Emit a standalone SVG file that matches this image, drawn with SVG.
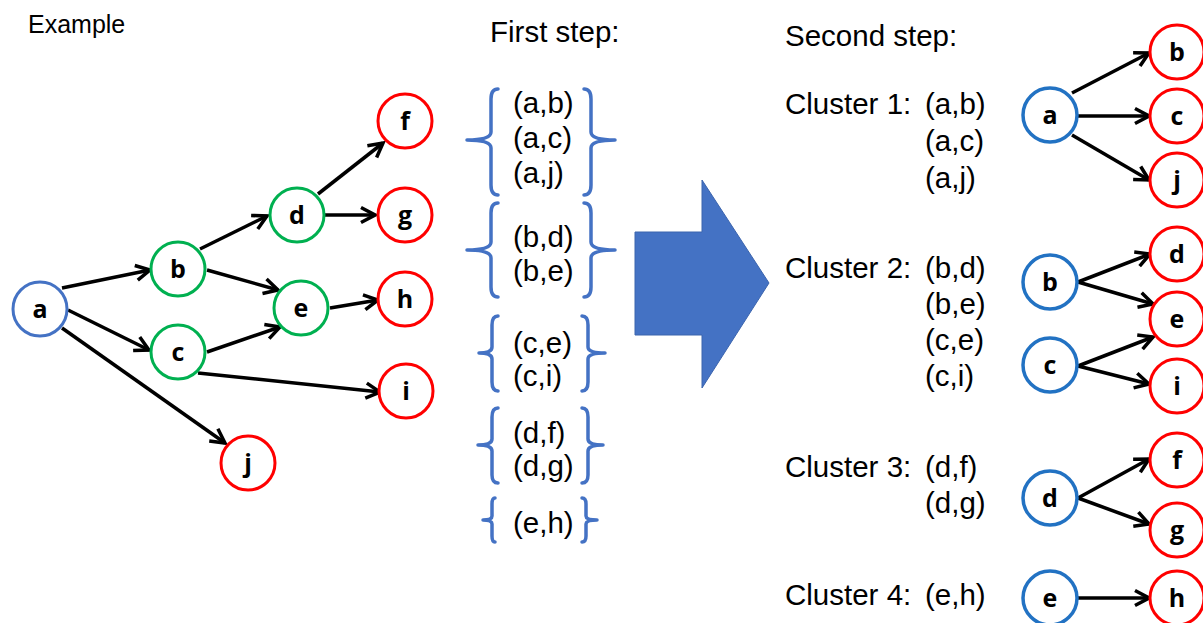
<svg xmlns="http://www.w3.org/2000/svg" width="1203" height="623" viewBox="0 0 1203 623">
<style>
.t{font-family:"Liberation Sans",Arial,sans-serif;font-size:29.5px;fill:#000}
.n{font-family:"Open Sans","Liberation Sans",sans-serif;font-weight:700;font-size:25px;fill:#000;text-anchor:middle}
.cb{fill:#fff;stroke:#4472C4;stroke-width:3}
.cb2{fill:#fff;stroke:#2272C3;stroke-width:3.5}
.cg{fill:#fff;stroke:#00B050;stroke-width:3}
.cr{fill:#fff;stroke:#FF0000;stroke-width:3}
.e{stroke:#000;stroke-width:3.5;fill:none;marker-end:url(#ah)}
.br{fill:none;stroke:#4472C4;stroke-width:3.5;stroke-linecap:round;stroke-linejoin:round}
</style>
<defs>
<marker id="ah" markerUnits="userSpaceOnUse" markerWidth="20" markerHeight="20" viewBox="-3 -3 20 20" refX="14" refY="7.5" orient="auto">
<path d="M0,0 L14,7.5 L0,15" fill="none" stroke="#000" stroke-width="3.5"/>
</marker>
</defs>
<rect width="1203" height="623" fill="#fff"/>

<text class="t" x="28" y="33" style="font-size:25px">Example</text>
<text class="t" x="490" y="42">First step:</text>
<text class="t" x="785" y="46">Second step:</text>

<g id="connectors-left">
<line class="e" x1="62" y1="288" x2="150" y2="270"/>
<line class="e" x1="68" y1="310" x2="149" y2="350"/>
<line class="e" x1="62" y1="328" x2="225" y2="443"/>
<line class="e" x1="200" y1="249" x2="267" y2="216"/>
<line class="e" x1="207" y1="270" x2="278" y2="290"/>
<line class="e" x1="207" y1="352" x2="280" y2="327"/>
<line class="e" x1="198" y1="373" x2="380" y2="392"/>
<line class="e" x1="318" y1="194" x2="383" y2="143"/>
<line class="e" x1="325" y1="215" x2="375" y2="215"/>
<line class="e" x1="330" y1="308" x2="378" y2="300"/>
</g>

<g id="L-a"><circle class="cb" cx="40" cy="309" r="27"/><text class="n" x="40" y="318">a</text></g>
<g id="L-b"><circle class="cg" cx="178" cy="269" r="27"/><text class="n" x="178" y="278">b</text></g>
<g id="L-c"><circle class="cg" cx="178" cy="352" r="27"/><text class="n" x="178" y="361">c</text></g>
<g id="L-d"><circle class="cg" cx="297" cy="215" r="27"/><text class="n" x="297" y="224">d</text></g>
<g id="L-e"><circle class="cg" cx="301" cy="308" r="27"/><text class="n" x="301" y="317">e</text></g>
<g id="L-f"><circle class="cr" cx="405" cy="121" r="27"/><text class="n" x="405" y="130">f</text></g>
<g id="L-g"><circle class="cr" cx="405" cy="215" r="27"/><text class="n" x="405" y="224">g</text></g>
<g id="L-h"><circle class="cr" cx="405" cy="299" r="27"/><text class="n" x="405" y="308">h</text></g>
<g id="L-i"><circle class="cr" cx="406" cy="391" r="27"/><text class="n" x="406" y="400">i</text></g>
<g id="L-j"><circle class="cr" cx="248" cy="463" r="27"/><text class="n" x="248" y="472">j</text></g>

<g id="first-step">
<path class="br" d="M498,89 Q491,89 491,99 L491,132 Q491,140 467,140 Q491,140 491,148 L491,185 Q491,195 498,195"/>
<path class="br" d="M584,89 Q591,89 591,99 L591,132 Q591,140 615,140 Q591,140 591,148 L591,185 Q591,195 584,195"/>
<text class="t" x="513" y="113">(a,b)</text>
<text class="t" x="513" y="148">(a,c)</text>
<text class="t" x="513" y="183">(a,j)</text>

<path class="br" d="M498,203 Q491,203 491,213 L491,242 Q491,250 467,250 Q491,250 491,258 L491,287 Q491,297 498,297"/>
<path class="br" d="M584,203 Q591,203 591,213 L591,242 Q591,250 615,250 Q591,250 591,258 L591,287 Q591,297 584,297"/>
<text class="t" x="513" y="247">(b,d)</text>
<text class="t" x="513" y="281">(b,e)</text>

<path class="br" d="M498,316 Q492,316 492,325 L492,347 Q492,353 479,353 Q492,353 492,359 L492,382 Q492,391 498,391"/>
<path class="br" d="M582,316 Q588,316 588,325 L588,347 Q588,353 605,353 Q588,353 588,359 L588,382 Q588,391 582,391"/>
<text class="t" x="513" y="353">(c,e)</text>
<text class="t" x="513" y="386">(c,i)</text>

<path class="br" d="M498,408 Q492,408 492,417 L492,439 Q492,445 478,445 Q492,445 492,451 L492,475 Q492,483 498,483"/>
<path class="br" d="M582,408 Q588,408 588,417 L588,439 Q588,445 603,445 Q588,445 588,451 L588,475 Q588,483 582,483"/>
<text class="t" x="513" y="443">(d,f)</text>
<text class="t" x="513" y="476">(d,g)</text>

<path class="br" d="M495,498 Q492,498 492,504 L492,516 Q492,520 483,520 Q492,520 492,524 L492,536 Q492,542 495,542"/>
<path class="br" d="M582,498 Q586,498 586,504 L586,516 Q586,520 597,520 Q586,520 586,524 L586,536 Q586,542 582,542"/>
<text class="t" x="513" y="533">(e,h)</text>
</g>

<polygon id="big-arrow" points="635,232 702,232 702,180 769,283 702,388 702,335 635,335" fill="#4472C4" stroke="#3B64AD" stroke-width="1"/>

<g id="cluster-labels">
<text class="t" x="785" y="114">Cluster 1:</text>
<text class="t" x="925" y="114">(a,b)</text>
<text class="t" x="925" y="151">(a,c)</text>
<text class="t" x="925" y="188">(a,j)</text>
<text class="t" x="785" y="278">Cluster 2:</text>
<text class="t" x="925" y="278">(b,d)</text>
<text class="t" x="925" y="314">(b,e)</text>
<text class="t" x="925" y="350">(c,e)</text>
<text class="t" x="925" y="386">(c,i)</text>
<text class="t" x="785" y="477">Cluster 3:</text>
<text class="t" x="925" y="477">(d,f)</text>
<text class="t" x="925" y="513">(d,g)</text>
<text class="t" x="785" y="605">Cluster 4:</text>
<text class="t" x="925" y="605">(e,h)</text>
</g>

<g id="connectors-right">
<line class="e" x1="1072" y1="93" x2="1149" y2="53"/>
<line class="e" x1="1078" y1="116" x2="1149" y2="116"/>
<line class="e" x1="1072" y1="135" x2="1149" y2="180"/>
<line class="e" x1="1078" y1="282" x2="1150" y2="254"/>
<line class="e" x1="1078" y1="282" x2="1153" y2="304"/>
<line class="e" x1="1078" y1="366" x2="1153" y2="337"/>
<line class="e" x1="1078" y1="366" x2="1149" y2="384"/>
<line class="e" x1="1078" y1="498" x2="1149" y2="459"/>
<line class="e" x1="1078" y1="498" x2="1149" y2="524"/>
<line class="e" x1="1078" y1="598" x2="1149" y2="598"/>
</g>

<g id="R1-a"><circle class="cb2" cx="1050" cy="115" r="27"/><text class="n" x="1050" y="124">a</text></g>
<g id="R1-b"><circle class="cr" cx="1177" cy="52" r="27"/><text class="n" x="1177" y="61">b</text></g>
<g id="R1-c"><circle class="cr" cx="1177" cy="116" r="27"/><text class="n" x="1177" y="125">c</text></g>
<g id="R1-j"><circle class="cr" cx="1177" cy="180" r="27"/><text class="n" x="1177" y="189">j</text></g>
<g id="R2-b"><circle class="cb2" cx="1050" cy="282" r="27"/><text class="n" x="1050" y="291">b</text></g>
<g id="R2-c"><circle class="cb2" cx="1050" cy="365" r="27"/><text class="n" x="1050" y="374">c</text></g>
<g id="R2-d"><circle class="cr" cx="1177" cy="254" r="27"/><text class="n" x="1177" y="263">d</text></g>
<g id="R2-e"><circle class="cr" cx="1177" cy="319" r="27"/><text class="n" x="1177" y="328">e</text></g>
<g id="R2-i"><circle class="cr" cx="1177" cy="386" r="27"/><text class="n" x="1177" y="395">i</text></g>
<g id="R3-d"><circle class="cb2" cx="1050" cy="498" r="27"/><text class="n" x="1050" y="507">d</text></g>
<g id="R3-f"><circle class="cr" cx="1177" cy="460" r="27"/><text class="n" x="1177" y="469">f</text></g>
<g id="R3-g"><circle class="cr" cx="1177" cy="530" r="27"/><text class="n" x="1177" y="539">g</text></g>
<g id="R4-e"><circle class="cb2" cx="1050" cy="598" r="27"/><text class="n" x="1050" y="607">e</text></g>
<g id="R4-h"><circle class="cr" cx="1177" cy="598" r="27"/><text class="n" x="1177" y="607">h</text></g>
</svg>
